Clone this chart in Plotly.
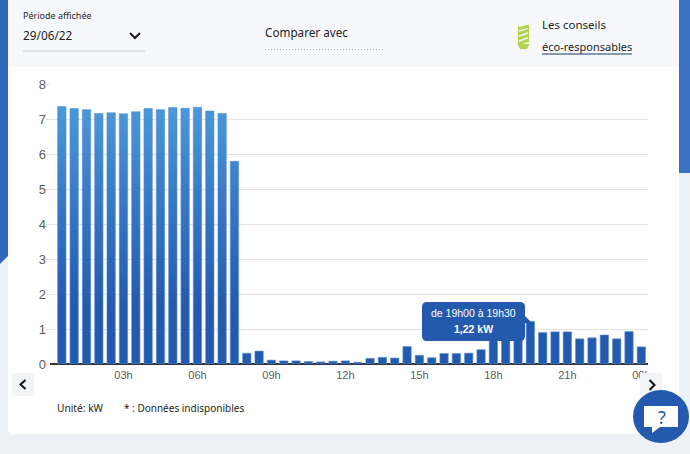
"""
Consommation par demi-heure - copie du graphique de l'espace client.
"""

import plotly.graph_objects as go

W = 690
H = 454

# demi-heures de la journee, 1 = 00h30 ... 48 = 24h00
half_hours = list(range(1, 49))
power_kw = [
    7.37, 7.31, 7.28, 7.17, 7.19, 7.16, 7.22, 7.31, 7.28, 7.34, 7.32, 7.35,
    7.24, 7.17, 5.80, 0.31, 0.37, 0.11, 0.09, 0.09, 0.07, 0.06, 0.08, 0.09,
    0.05, 0.16, 0.19, 0.17, 0.50, 0.25, 0.18, 0.30, 0.30, 0.31, 0.41, 0.72,
    0.76, 0.98, 1.22, 0.90, 0.92, 0.92, 0.72, 0.75, 0.83, 0.72, 0.93, 0.49,
]
tick_vals = [6, 12, 18, 24, 30, 36, 42, 48]
tick_text = ["03h", "06h", "09h", "12h", "15h", "18h", "21h", "00h"]
y_ticks = [0, 1, 2, 3, 4, 5, 6, 7, 8]

PLOT_L = 49.5
PLOT_R = 648
PLOT_T = 84.5
PLOT_B = 364

BLUE = "#245aae"
TEXT = "#1d1d22"
TICK = "#5c5c5c"
PAGE = "#edf0f5"
HEADER = "#f7f8fb"
GREEN = "#b4d354"


def px(x):
    return x / W


def py(y):
    return 1 - y / H


def pt(x, y):
    return f"{px(x)},{py(y)}"


def rect(x0, y0, x1, y1, color, layer="below"):
    return dict(type="rect", xref="paper", yref="paper", x0=px(x0), x1=px(x1),
                y0=py(y0), y1=py(y1), fillcolor=color, line_width=0, layer=layer)


def path(points, color=None, line=None, width=1.5, layer="above", close=False, dash=None):
    d = "M " + " L ".join(pt(*p) for p in points)
    if close:
        d += " Z"
    ln = dict(color=line if line else "rgba(0,0,0,0)", width=width if line else 0)
    if dash:
        ln["dash"] = dash
    return dict(type="path", xref="paper", yref="paper", path=d, layer=layer,
                fillcolor=color if color else "rgba(0,0,0,0)", line=ln)


def rounded(x0, y0, x1, y1, r, color, layer="above"):
    d = (f"M {pt(x0+r, y0)} L {pt(x1-r, y0)} Q {pt(x1, y0)} {pt(x1, y0+r)} "
         f"L {pt(x1, y1-r)} Q {pt(x1, y1)} {pt(x1-r, y1)} L {pt(x0+r, y1)} "
         f"Q {pt(x0, y1)} {pt(x0, y1-r)} L {pt(x0, y0+r)} Q {pt(x0, y0)} {pt(x0+r, y0)} Z")
    return dict(type="path", xref="paper", yref="paper", path=d, layer=layer,
                fillcolor=color, line_width=0)


def label(x, y, text, size=12, color=TEXT, xanchor="left", family="Noto Sans"):
    return dict(xref="paper", yref="paper", x=px(x), y=py(y), text=text, showarrow=False,
                xanchor=xanchor, yanchor="middle", borderpad=0,
                font=dict(family=family, size=size, color=color))


fig = go.Figure()

fig.add_trace(go.Bar(
    x=half_hours,
    y=power_kw,
    width=0.68,
    marker=dict(color=BLUE, line=dict(color="#5d8fd6", width=0.6)),
    showlegend=False,
    hoverinfo="skip",
))

shapes = [
    # fond de page
    path([(0, 0), (10, 0), (10, 254), (0, 264)], color="#2f68bb", layer="below", close=True),
    rect(677, 0, 690, 173, "#3a70c2"),
    rounded(8, 60, 679, 434, 4, "white", layer="below"),
    rect(8, 0, 679, 67, HEADER),
    # boutons precedent / suivant
    rounded(12, 373, 34, 396, 3, "#f2f3f5", layer="below"),
    rounded(640, 373, 662, 396, 3, "#f2f3f5"),
    # en-tete
    path([(130, 33), (135, 38), (140, 33)], line="#1a1a1a", width=2),
    path([(23, 51), (145, 51)], line="#c9ccd3", width=1),
    path([(265, 49.5), (385, 49.5)], line="#a9adb5", width=1, dash="1px,2px"),
    path([(542, 54), (632, 54)], line="#5d7a9c", width=1.5),
    # fleches
    path([(25.5, 380), (20.5, 384.5), (25.5, 389)], line="#111111", width=2),
    path([(649.5, 380), (654.5, 385), (649.5, 390)], line="#111111", width=2),
]
# ampoule
for y0, y1 in [(29, 26), (34, 30), (39, 35), (44, 40)]:
    shapes.append(path([(518, y0), (529, y1)], line=GREEN, width=3))
shapes += [
    path([(518.5, 26), (518.5, 43), (528.5, 39), (528.5, 26)], line=GREEN, width=1),
    path([(517.5, 44), (529.5, 44), (527, 49), (520, 49)], color=GREEN, close=True),
]
# bulle d'info et bouton d'aide
shapes += [
    rounded(422, 302, 525, 341, 5, BLUE),
    path([(524, 315), (532, 323), (524, 323)], color=BLUE, close=True),
    dict(type="circle", xref="paper", yref="paper", layer="above",
         x0=px(633), x1=px(689), y0=py(443), y1=py(390), fillcolor=BLUE, line_width=0),
    path([(644, 406), (678, 406), (678, 427), (660, 427), (652, 433), (652, 427), (644, 427)],
         color="white", close=True),
]

annotations = [
    label(22, 15, "Période affichée", size=9),
    label(22, 35, "29/06/22", size=11.8),
    label(264, 32, "Comparer avec", size=11.7),
    label(541, 25, "Les conseils", size=11.5),
    label(541, 46, "éco-responsables", size=11),
    label(56, 408, "Unité: kW", size=10.2),
    label(123, 408, "* : Données indisponibles", size=10),
    label(473, 313, "de 19h00 à 19h30", size=10.5, color="white", xanchor="center",
          family="Liberation Sans"),
    label(473, 329, "<b>1,22 kW</b>", size=10.5, color="white", xanchor="center",
          family="Liberation Sans"),
    label(662, 417, "?", size=18, color=BLUE, xanchor="center"),
]

fig.update_layout(
    width=W,
    height=H,
    autosize=False,
    margin=dict(l=0, r=0, t=0, b=0, pad=0),
    paper_bgcolor=PAGE,
    plot_bgcolor="rgba(0,0,0,0)",
    shapes=shapes,
    annotations=annotations,
    hovermode=False,
    xaxis=dict(
        domain=[px(PLOT_L), px(PLOT_R)],
        range=[0, (PLOT_R - PLOT_L) / 12.33],
        tickmode="array",
        tickvals=tick_vals,
        ticktext=tick_text,
        ticks="",
        ticklabelstandoff=3,
        showgrid=False,
        zeroline=False,
        showline=False,
        automargin=False,
        tickfont=dict(family="Liberation Sans", size=11, color=TICK),
        fixedrange=True,
    ),
    yaxis=dict(
        domain=[py(PLOT_B), py(PLOT_T)],
        range=[0, 8],
        tickmode="array",
        tickvals=y_ticks,
        ticks="outside",
        ticklen=3,
        tickcolor="#d9d9d9",
        ticklabelstandoff=-3,
        showgrid=True,
        gridcolor="#e4e4e4",
        gridwidth=1,
        zeroline=True,
        zerolinecolor="#34343c",
        zerolinewidth=1.5,
        automargin=False,
        tickfont=dict(family="Liberation Sans", size=13, color=TICK),
        fixedrange=True,
    ),
)

# plotly has no gradient for bars, so fill them with an svg one once drawn
post_script = """
document.body.style.margin = '0';
var gd = document.getElementById('{plot_id}');
var svg = gd.querySelector('svg.main-svg');
var ns = 'http://www.w3.org/2000/svg';
var g = document.createElementNS(ns, 'linearGradient');
g.setAttribute('id', 'barGrad');
g.setAttribute('gradientUnits', 'userSpaceOnUse');
g.setAttribute('x1', '0'); g.setAttribute('x2', '0');
g.setAttribute('y1', '0'); g.setAttribute('y2', '280');
[['0', '#4fa0dc'], ['0.45', '#3476c4'], ['0.8', '#245aae'], ['1', '#245aae']].forEach(function (s) {
    var st = document.createElementNS(ns, 'stop');
    st.setAttribute('offset', s[0]);
    st.setAttribute('stop-color', s[1]);
    g.appendChild(st);
});
var defs = svg.querySelector('defs') || svg.insertBefore(document.createElementNS(ns, 'defs'), svg.firstChild);
defs.appendChild(g);
gd.querySelectorAll('.barlayer .point path').forEach(function (p) {
    p.style.fill = 'url(#barGrad)';
});
"""

fig.write_html("out.html", post_script=post_script, config=dict(displayModeBar=False))
